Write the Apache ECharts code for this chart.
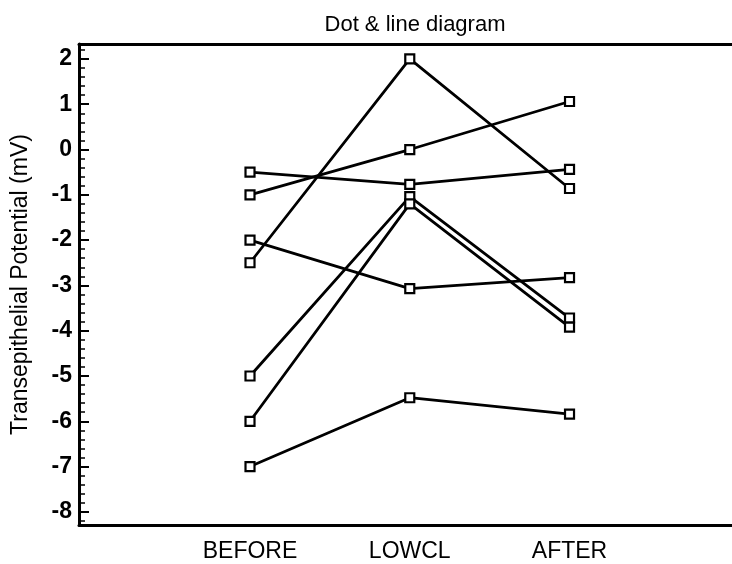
<!DOCTYPE html>
<html>
<head>
<meta charset="utf-8">
<script src="https://cdn.jsdelivr.net/npm/echarts@6/dist/echarts.min.js"></script>
<style>
  html, body { margin: 0; padding: 0; background: #fff; }
  #chart { width: 732px; height: 564px; }
</style>
</head>
<body>
<div id="chart"></div>
<script>
// conditions along the x axis
const conditions = ['BEFORE', 'LOWCL', 'AFTER'];

// one array per subject: values at BEFORE, LOWCL, AFTER (mV)
const subjectA = [-2.5, 2.0, -0.86];
const subjectB = [-1.0, 0.0, 1.06];
const subjectC = [-0.5, -0.77, -0.44];
const subjectD = [-2.0, -3.07, -2.83];
const subjectE = [-5.0, -1.04, -3.72];
const subjectF = [-6.0, -1.2, -3.92];
const subjectG = [-7.0, -5.48, -5.84];

const subjects = [subjectA, subjectB, subjectC, subjectD, subjectE, subjectF, subjectG];

const font = '"Liberation Sans", Arial, Helvetica, sans-serif';

const chart = echarts.init(document.getElementById('chart'));

const series = subjects.map(vals => ({
  type: 'line',
  data: vals.map((v, i) => [i + 1, v]),
  symbol: 'rect',
  symbolSize: 9,
  showSymbol: true,
  lineStyle: { color: '#000', width: 2.8 },
  itemStyle: { color: '#fff', borderColor: '#000', borderWidth: 2.2 },
  z: 3,
  animation: false,
}));

const option = {
  animation: false,
  title: {
    text: 'Dot & line diagram',
    left: 410,
    top: 9,
    textAlign: 'center',
    textStyle: { fontFamily: font, fontSize: 22, fontWeight: 'normal', color: '#000' },
  },
  grid: { left: 79, right: 0, top: 44, bottom: 39 },
  xAxis: [
    {
      type: 'value',
      min: -0.0704,
      max: 4.017,
      splitLine: { show: false },
      axisTick: { show: false },
      axisLine: { onZero: false, lineStyle: { color: '#000', width: 3 } },
      axisLabel: {
        customValues: [1, 2, 3],
        formatter: v => conditions[Math.round(v) - 1] || '',
        fontFamily: font,
        fontSize: 23,
        color: '#000',
        margin: 15,
      },
    },
    {
      type: 'value',
      position: 'top',
      min: -0.0704,
      max: 4.017,
      splitLine: { show: false },
      axisTick: { show: false },
      axisLabel: { show: false },
      axisLine: { onZero: false, lineStyle: { color: '#000', width: 3 } },
    },
  ],
  yAxis: {
    type: 'value',
    min: -8.29,
    max: 2.33,
    splitNumber: 10,
    name: 'Transepithelial Potential (mV)',
    nameLocation: 'middle',
    nameGap: 47,
    nameTextStyle: { fontFamily: font, fontSize: 23, color: '#000' },
    splitLine: { show: false },
    axisLine: { show: true, onZero: false, lineStyle: { color: '#000', width: 3 } },
    axisTick: { show: true, inside: true, length: 10, lineStyle: { color: '#000', width: 2 } },
    minorTick: { show: true, splitNumber: 5, length: 6, lineStyle: { color: '#000', width: 1.5 } },
    axisLabel: {
      showMinLabel: false,
      showMaxLabel: false,
      fontFamily: font,
      fontSize: 23,
      fontWeight: 'bold',
      color: '#000',
      margin: 7,
    },
  },
  series,
};

chart.setOption(option);
</script>
</body>
</html>
